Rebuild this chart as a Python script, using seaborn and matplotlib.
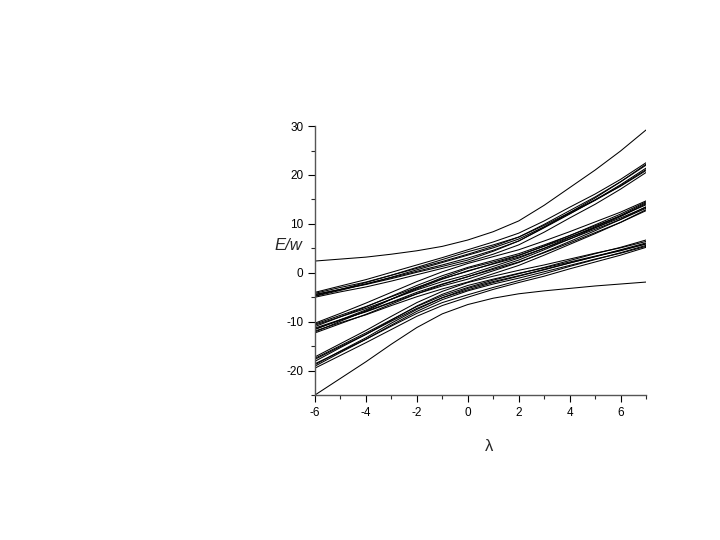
import numpy as np
import pandas as pd
import seaborn as sns
import matplotlib.pyplot as plt
from matplotlib.ticker import MultipleLocator

# coupling parameter (x axis)
lam = [-6, -5, -4, -3, -2, -1, 0, 1, 2, 3, 4, 5, 6, 7]

# single outer levels
top_level = [2.4, 2.8, 3.2, 3.8, 4.5, 5.4, 6.7, 8.4, 10.6, 13.8, 17.4, 21.0, 24.9, 29.2]
bottom_level = [-25.0, -21.6, -18.2, -14.6, -11.2, -8.4, -6.5, -5.2, -4.3, -3.7, -3.2, -2.7, -2.3, -1.9]

# upper band
band_a = [
    [-4.0, -2.7, -1.4, 0.1, 1.6, 3.1, 4.7, 6.3, 8.1, 10.6, 13.4, 16.1, 19.1, 22.5],
    [-4.2, -3.0, -1.9, -0.5, 0.9, 2.3, 3.8, 5.4, 7.3, 9.9, 12.7, 15.5, 18.6, 22.0],
    [-4.5, -3.4, -2.3, -1.0, 0.3, 1.6, 3.0, 4.6, 6.5, 9.2, 12.0, 14.9, 18.0, 21.4],
    [-4.7, -3.4, -2.0, -0.5, 1.1, 2.7, 4.3, 5.7, 7.3, 9.7, 12.3, 14.9, 17.7, 20.9],
    [-5.0, -3.9, -2.9, -1.7, -0.4, 0.9, 2.2, 3.8, 5.7, 8.3, 11.2, 14.0, 17.1, 20.5],
    [-4.4, -3.4, -2.4, -1.2, 0.1, 1.3, 2.6, 4.4, 6.5, 9.3, 12.3, 15.3, 18.6, 22.2],
    [-4.8, -3.6, -2.3, -0.9, 0.6, 2.1, 3.6, 5.1, 6.9, 9.4, 12.1, 14.8, 17.8, 21.1],
]

# middle band
band_b = [
    [-10.3, -8.3, -6.2, -4.0, -1.8, 0.2, 1.9, 3.3, 4.7, 6.5, 8.4, 10.4, 12.4, 14.7],
    [-10.7, -9.0, -7.3, -5.4, -3.5, -1.8, -0.4, 1.3, 3.0, 5.0, 7.2, 9.4, 11.7, 14.3],
    [-11.0, -9.0, -7.0, -4.8, -2.6, -0.6, 1.1, 2.5, 3.9, 5.7, 7.6, 9.6, 11.6, 13.9],
    [-11.3, -9.6, -8.0, -6.1, -4.3, -2.7, -1.3, 0.4, 2.1, 4.2, 6.4, 8.6, 10.9, 13.5],
    [-11.6, -9.6, -7.6, -5.4, -3.3, -1.3, 0.4, 1.8, 3.2, 5.0, 6.9, 8.9, 10.9, 13.2],
    [-11.9, -10.2, -8.6, -6.7, -4.9, -3.3, -1.9, -0.2, 1.5, 3.6, 5.8, 8.0, 10.3, 12.9],
    [-12.3, -10.4, -8.5, -6.4, -4.3, -2.4, -0.8, 0.7, 2.2, 4.1, 6.1, 8.2, 10.3, 12.7],
    [-10.5, -8.7, -6.9, -4.9, -3.0, -1.2, 0.3, 1.9, 3.5, 5.5, 7.6, 9.8, 12.0, 14.5],
    [-12.1, -9.9, -7.8, -5.4, -3.1, -1.0, 0.9, 2.2, 3.6, 5.4, 7.3, 9.2, 11.2, 13.4],
    [-11.5, -9.7, -7.9, -6.0, -4.0, -2.3, -0.8, 0.9, 2.6, 4.7, 6.9, 9.2, 11.5, 14.1],
]

# lower band
band_c = [
    [-17.2, -14.5, -11.8, -8.9, -6.1, -3.8, -2.0, -0.7, 0.5, 1.6, 2.8, 4.0, 5.1, 6.4],
    [-17.7, -15.1, -12.6, -9.9, -7.3, -5.1, -3.5, -2.0, -0.7, 0.6, 2.0, 3.3, 4.7, 6.1],
    [-18.1, -15.3, -12.6, -9.7, -6.8, -4.4, -2.6, -1.3, -0.1, 1.0, 2.2, 3.4, 4.6, 5.9],
    [-18.6, -16.1, -13.6, -10.9, -8.3, -6.1, -4.5, -3.0, -1.6, -0.2, 1.3, 2.7, 4.1, 5.6],
    [-19.1, -16.3, -13.6, -10.7, -7.9, -5.5, -3.7, -2.3, -1.1, 0.2, 1.5, 2.8, 4.0, 5.4],
    [-19.5, -16.9, -14.3, -11.6, -8.9, -6.7, -5.0, -3.4, -2.0, -0.7, 0.8, 2.2, 3.6, 5.2],
    [-17.5, -14.9, -12.3, -9.6, -6.9, -4.7, -3.0, -1.5, -0.2, 1.1, 2.5, 3.9, 5.2, 6.7],
    [-18.8, -16.0, -13.3, -10.3, -7.5, -5.1, -3.2, -1.8, -0.6, 0.7, 2.0, 3.3, 4.5, 5.9],
]

x_ticks = [-6, -4, -2, 0, 2, 4, 6]
y_ticks = [-20, -10, 0, 10, 20, 30]

# long table, one unit per level
levels = [top_level] + band_a + band_b + band_c + [bottom_level]
rows = []
for i, lv in enumerate(levels):
    for x, e in zip(lam, lv):
        rows.append({"lambda": x, "E": e, "level": i})
df = pd.DataFrame(rows)

sns.set_style("ticks")
plt.rcParams['font.family'] = ['Liberation Sans', 'DejaVu Sans']
plt.rcParams['axes.unicode_minus'] = False

fig = plt.figure(figsize=(7.2, 5.4), dpi=100)
ax = fig.add_axes([0.4375, 0.2685, 0.4597, 0.498])

sns.lineplot(data=df, x="lambda", y="E", units="level", estimator=None,
             color="black", linewidth=0.75, ax=ax, legend=False)

ax.set_xlim(-6, 7)
ax.set_ylim(-25, 30)
ax.set_xticks(x_ticks)
ax.set_yticks(y_ticks)
ax.xaxis.set_minor_locator(MultipleLocator(1))
ax.yaxis.set_minor_locator(MultipleLocator(5))
ax.tick_params(which="major", direction="out", length=5, width=0.8, labelsize=8.5, colors="black")
ax.tick_params(which="minor", direction="out", length=3, width=0.8)
sns.despine(ax=ax)
for s in ["left", "bottom"]:
    ax.spines[s].set_color("#555555")
    ax.spines[s].set_linewidth(1.0)

ax.set_xlabel("λ", fontsize=12)
ax.xaxis.set_label_coords(0.526, -0.165)
ax.set_ylabel("E/w", rotation=0, fontsize=12, style="italic", ha="center", va="center")
ax.yaxis.set_label_coords(-0.08, 0.555)

fig.savefig("out.png", dpi=100, facecolor="white")
